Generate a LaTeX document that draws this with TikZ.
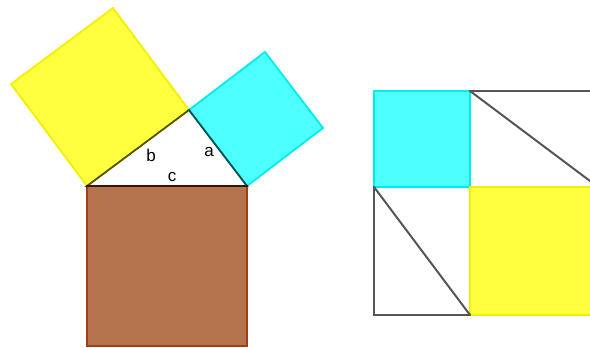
\documentclass[tikz,border=0pt]{standalone}
\usepackage{fontspec}
\setmainfont{Liberation Sans}
\definecolor{sqyellow}{RGB}{255,255,64}
\definecolor{edgeyellow}{RGB}{240,240,0}
\definecolor{sqcyan}{RGB}{77,255,255}
\definecolor{edgecyan}{RGB}{0,235,235}
\definecolor{sqbrown}{RGB}{181,115,77}
\definecolor{edgebrown}{RGB}{160,64,16}
\definecolor{lineGray}{RGB}{85,85,85}
\begin{document}
\begin{tikzpicture}[
    x=1pt, y=-1pt,
    square/.style={fill=#1, line width=1.8pt, line join=miter},
    side/.style={draw=black, opacity=0.65, line width=1.8pt},
    grid/.style={draw=lineGray, line width=2pt, line cap=round},
    lbl/.style={font=\fontsize{17}{19}\selectfont, inner sep=0pt}
]
    \useasboundingbox (0,0) rectangle (590,348);

    % Dreieck links
    \coordinate (A) at (87,186);
    \coordinate (B) at (247,186);
    \coordinate (C) at (189,110);

    % Quadrate auf den Seiten
    \draw[square=sqyellow, draw=edgeyellow] (A) -- (C) -- (113,8) -- (11,84) -- cycle;
    \draw[square=sqcyan, draw=edgecyan] (C) -- (B) -- (323,128) -- (265,52) -- cycle;
    \draw[square=sqbrown, draw=edgebrown] (A) -- (B) -- (247,346) -- (87,346) -- cycle;
    \draw[side] (A) -- (C) -- (B) -- cycle;

    % Beschriftung
    \node[lbl] (lb) at (151,155) {b};
    \node[lbl] (la) at (209,152) {a};
    \node[lbl] (lc) at (172,177) {c};

    % Quadrat rechts
    \coordinate (P) at (374,91);
    \coordinate (Q) at (470,91);
    \coordinate (R) at (374,187);
    \coordinate (S) at (470,187);
    \coordinate (T) at (374,315);
    \coordinate (U) at (470,315);
    \fill[sqcyan] (P) rectangle (S);
    \draw[edgecyan, line width=1.2pt] (P) rectangle (S);
    \fill[sqyellow] (S) rectangle (598,315);
    \draw[edgeyellow, line width=1.2pt] (S) rectangle (598,315);
    \draw[grid] (Q) -- (598,91);
    \draw[grid] (Q) -- (598,187);
    \draw[grid] (R) -- (T) -- (U);
    \draw[grid] (R) -- (U);
\end{tikzpicture}
\end{document}
